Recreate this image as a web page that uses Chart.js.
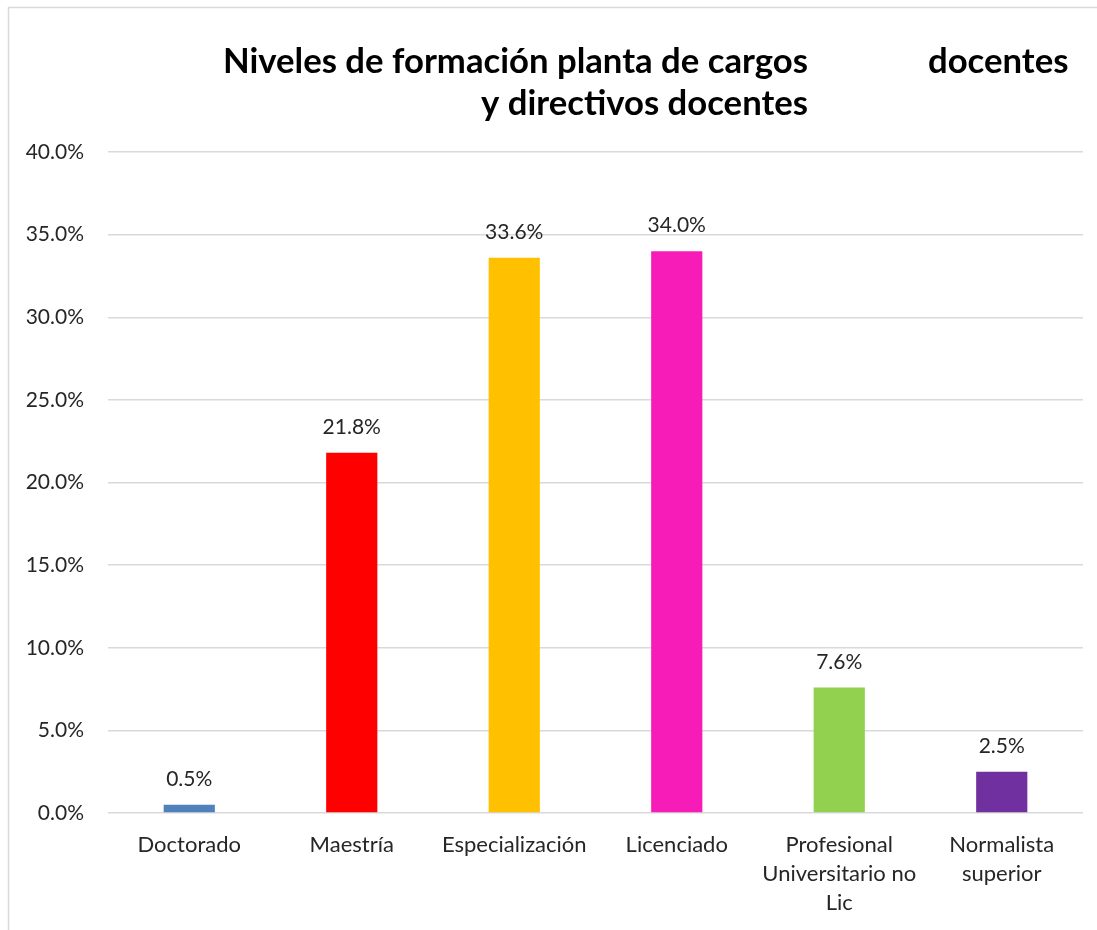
<!DOCTYPE html>
<html><head><meta charset="utf-8">
<script src="https://cdn.jsdelivr.net/npm/chart.js@4"></script>
<style>html,body{margin:0;padding:0;background:#fff;}#w{width:1097px;height:930px;position:relative;}</style>
</head><body><div id="w"><canvas id="c"></canvas></div>
<script>
const categories = ["Doctorado", "Maestría", "Especialización", "Licenciado", ["Profesional", "Universitario no", "Lic"], ["Normalista", "superior"]];
const values = [0.5, 21.8, 33.6, 34.0, 7.6, 2.5];
const barColors = ["#4F81BD", "#FF0000", "#FFC000", "#F71BB8", "#92D050", "#7030A0"];
const titleLine1a = "Niveles de formación planta de cargos";
const titleLine1b = "docentes";
const titleLine2 = "y directivos docentes";
const FONT = "Lato, 'Open Sans', sans-serif";

const decor = {
  id: 'decor',
  beforeDraw(chart) {
    const ctx = chart.ctx;
    ctx.save();
    ctx.strokeStyle = '#D9D9D9';
    ctx.lineWidth = 1.5;
    ctx.beginPath();
    ctx.moveTo(8.5, 930); ctx.lineTo(8.5, 7.5); ctx.lineTo(1097, 7.5);
    ctx.stroke();
    ctx.restore();
  },
  afterDraw(chart) {
    const ctx = chart.ctx;
    ctx.save();
    ctx.fillStyle = '#000';
    ctx.font = "bold 34.7px " + FONT;
    ctx.textBaseline = 'middle';
    ctx.textAlign = 'right';
    ctx.fillText(titleLine1a, 808, 62);
    ctx.fillText(titleLine2, 808, 104);
    ctx.textAlign = 'left';
    ctx.fillText(titleLine1b, 928, 62);
    // data labels
    const meta = chart.getDatasetMeta(0);
    ctx.font = "21px " + FONT;
    ctx.fillStyle = '#262626';
    ctx.textAlign = 'center';
    ctx.textBaseline = 'middle';
    meta.data.forEach((bar, i) => {
      ctx.fillText(values[i].toFixed(1) + '%', bar.x, bar.y - 25.5);
    });
    ctx.restore();
  }
};

new Chart(document.getElementById('c'), {
  type: 'bar',
  data: {
    labels: categories,
    datasets: [{ data: values, backgroundColor: barColors, barPercentage: 0.63, categoryPercentage: 0.5 }]
  },
  options: {
    responsive: true,
    maintainAspectRatio: false,
    animation: false,
    layout: { padding: { top: 152, right: 14, bottom: 0, left: 0 } },
    plugins: { legend: { display: false }, tooltip: { enabled: false }, title: { display: false } },
    scales: {
      x: {
        grid: { display: false },
        border: { display: false },
        ticks: { color: '#262626', font: { family: FONT, size: 22, lineHeight: 1.32 }, padding: 9, maxRotation: 0, autoSkip: false },
        afterFit(s) { s.height = 117; }
      },
      y: {
        min: 0, max: 40,
        ticks: { stepSize: 5, color: '#262626', font: { family: FONT, size: 21 }, padding: 24,
                 callback: v => v.toFixed(1) + '%' },
        grid: { color: '#D9D9D9', lineWidth: 1.5, drawTicks: false },
        border: { display: false },
        afterFit(s) { s.width = 108; }
      }
    }
  },
  plugins: [decor]
});
</script></body></html>
